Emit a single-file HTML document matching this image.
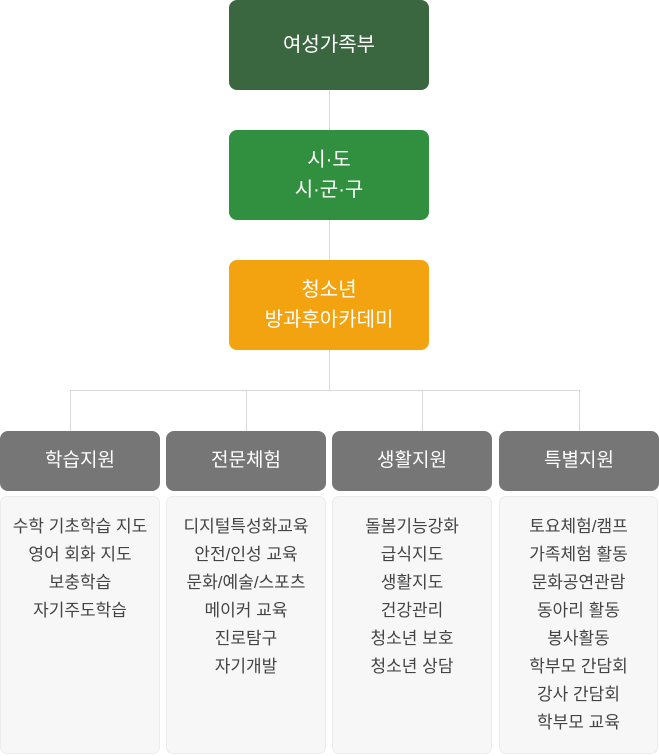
<!DOCTYPE html>
<html><head><meta charset="utf-8"><style>
*{margin:0;padding:0;box-sizing:border-box}
body{width:659px;height:756px;background:#fff;position:relative;overflow:hidden;font-family:"Liberation Sans","Noto Sans CJK KR",sans-serif}
.b{position:absolute;border-radius:8px;color:#fff;display:flex;align-items:center;justify-content:center;text-align:center;font-size:20px;line-height:30px}
.l{position:absolute;background:#d9d9d9}
.c{position:absolute;top:496px;height:258px;background:#f7f7f7;border:1px solid #ececec;border-radius:7px;text-align:center;color:#444;font-size:17px;line-height:28px;padding-top:16px}
.g{top:431px;height:60px;background:#767676;font-size:19px}
</style></head><body>
<div class="l" style="left:329px;top:90px;width:1px;height:300px"></div>
<div class="l" style="left:70px;top:390px;width:510px;height:1px"></div>
<div class="l" style="left:70px;top:390px;width:1px;height:41px"></div>
<div class="l" style="left:246px;top:390px;width:1px;height:41px"></div>
<div class="l" style="left:422px;top:390px;width:1px;height:41px"></div>
<div class="l" style="left:579px;top:390px;width:1px;height:41px"></div>
<div class="b" style="left:229px;top:0;width:200px;height:90px;background:#3a6640">여성가족부</div>
<div class="b" style="left:229px;top:130px;width:200px;height:90px;background:#30903f">시·도<br>시·군·구</div>
<div class="b" style="left:229px;top:260px;width:200px;height:90px;background:#f2a30f">청소년<br>방과후아카데미</div>
<div class="b g" style="left:0;width:160px">학습지원</div>
<div class="b g" style="left:166px;width:160px">전문체험</div>
<div class="b g" style="left:332px;width:160px">생활지원</div>
<div class="b g" style="left:499px;width:160px">특별지원</div>
<div class="c" style="left:0;width:160px">수학 기초학습 지도<br>영어 회화 지도<br>보충학습<br>자기주도학습</div>
<div class="c" style="left:166px;width:160px">디지털특성화교육<br>안전/인성 교육<br>문화/예술/스포츠<br>메이커 교육<br>진로탐구<br>자기개발</div>
<div class="c" style="left:332px;width:160px">돌봄기능강화<br>급식지도<br>생활지도<br>건강관리<br>청소년 보호<br>청소년 상담</div>
<div class="c" style="left:499px;width:159px">토요체험/캠프<br>가족체험 활동<br>문화공연관람<br>동아리 활동<br>봉사활동<br>학부모 간담회<br>강사 간담회<br>학부모 교육</div>
</body></html>
